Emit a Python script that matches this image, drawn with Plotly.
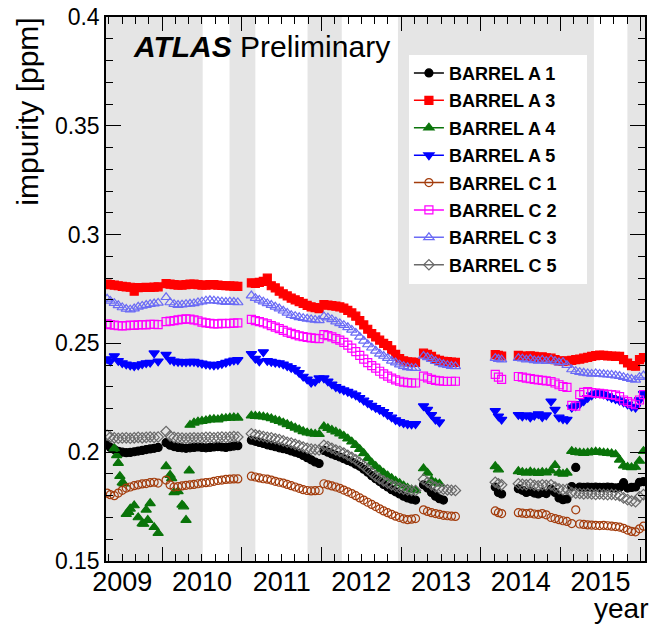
import plotly.graph_objects as go

# ---------------- data ----------------
dates = [
    2009.31, 2009.35, 2009.40, 2009.45, 2009.50, 2009.55, 2009.60, 2009.65, 2009.70, 2009.75, 2009.80, 2009.85, 2009.90, 2009.95,
    2010.05, 2010.10, 2010.15, 2010.20, 2010.25, 2010.30, 2010.35, 2010.40, 2010.45, 2010.50, 2010.55, 2010.60, 2010.65, 2010.70, 2010.75, 2010.80, 2010.85, 2010.90, 2010.95,
    2011.12, 2011.17, 2011.22, 2011.27, 2011.32, 2011.37, 2011.42, 2011.47, 2011.52, 2011.57, 2011.62, 2011.67, 2011.72, 2011.77, 2011.82, 2011.87, 2011.92, 2011.97,
    2012.03, 2012.08, 2012.13, 2012.18, 2012.23, 2012.28, 2012.33, 2012.38, 2012.43, 2012.48, 2012.53, 2012.58, 2012.63, 2012.68, 2012.73, 2012.78, 2012.83, 2012.88, 2012.93, 2012.98, 2013.03, 2013.08, 2013.13, 2013.18,
    2013.28, 2013.33, 2013.38, 2013.43, 2013.48, 2013.53, 2013.58, 2013.63, 2013.68,
    2014.18, 2014.22, 2014.26,
    2014.47, 2014.52, 2014.57, 2014.62, 2014.67, 2014.72, 2014.77, 2014.82,
    2014.88, 2014.93, 2014.98, 2015.03, 2015.08,
    2015.14, 2015.19, 2015.24, 2015.29, 2015.34, 2015.39, 2015.44, 2015.49, 2015.54, 2015.59, 2015.64, 2015.69, 2015.74, 2015.79, 2015.84, 2015.89, 2015.94, 2015.99, 2016.04,
]

barrel_a1 = [
    0.2036, 0.2022, 0.2012, 0.2004, 0.2000, 0.1998, 0.1999, 0.2002, 0.2005, 0.2008, 0.2012, 0.2015, 0.2018, 0.2022,
    0.2044, 0.2032, 0.2026, 0.2022, 0.2020, 0.2018, 0.2020, 0.2022, 0.2024, 0.2022, 0.2020, 0.2022, 0.2024, 0.2026, 0.2024, 0.2022, 0.2025, 0.2028, 0.2030,
    0.2055, 0.2050, 0.2045, 0.2040, 0.2034, 0.2030, 0.2025, 0.2020, 0.2016, 0.2012, 0.2006, 0.2000, 0.1994, 0.1985, 0.1975, 0.1965, 0.1955, 0.1948,
    0.2008, 0.2000, 0.1992, 0.1985, 0.1978, 0.1970, 0.1962, 0.1955, 0.1945, 0.1935, 0.1922, 0.1908, 0.1892, 0.1878, 0.1865, 0.1852, 0.1840, 0.1828, 0.1818, 0.1808, 0.1798, 0.1790, 0.1784, 0.1780,
    0.1850, 0.1835, 0.1815, 0.1798, 0.1786, 0.1780, None, None, None,
    0.1840, 0.1815, 0.1808,
    0.1832, 0.1825, 0.1815, 0.1820, 0.1812, 0.1808, 0.1815, 0.1810,
    0.1830, 0.1815, 0.1790, 0.1782, 0.1785,
    0.1842, 0.1930, 0.1840, 0.1838, 0.1840, 0.1838, 0.1840, 0.1838, 0.1839, 0.1840, 0.1838, 0.1836, 0.1838, 0.1860, 0.1835, 0.1838, 0.1840, 0.1862, 0.1865,
]

barrel_a3 = [
    0.2772, 0.2770, 0.2768, 0.2765, 0.2762, 0.2760, 0.2758, 0.2740, 0.2756, 0.2757, 0.2758, 0.2757, 0.2759, 0.2760,
    0.2775, 0.2772, 0.2770, 0.2768, 0.2768, 0.2770, 0.2772, 0.2772, 0.2770, 0.2768, 0.2768, 0.2770, 0.2770, 0.2768, 0.2766, 0.2765, 0.2764, 0.2763, 0.2762,
    0.2778, 0.2776, 0.2780, 0.2785, 0.2800, 0.2765, 0.2755, 0.2740, 0.2728, 0.2718, 0.2708, 0.2700, 0.2692, 0.2684, 0.2675, 0.2668, 0.2664, 0.2660,
    0.2678, 0.2676, 0.2674, 0.2671, 0.2668, 0.2662, 0.2652, 0.2640, 0.2625, 0.2605, 0.2585, 0.2565, 0.2545, 0.2530, 0.2515, 0.2500, 0.2490, 0.2470, 0.2450, 0.2430, 0.2420, 0.2415, 0.2414, 0.2413,
    0.2455, 0.2450, 0.2440, 0.2428, 0.2422, 0.2418, 0.2416, 0.2414, 0.2413,
    0.2448, 0.2445, 0.2442,
    0.2445, 0.2442, 0.2440, 0.2443, 0.2440, 0.2436, 0.2438, 0.2434,
    0.2432, 0.2425, 0.2420, 0.2418, 0.2420,
    0.2422, 0.2425, 0.2428, 0.2432, 0.2436, 0.2440, 0.2444, 0.2446, 0.2445, 0.2443, 0.2442, 0.2440, 0.2440, 0.2425, 0.2410, 0.2398, 0.2395, 0.2425, 0.2435,
]

barrel_a4 = [
    None, None, 0.2018, 0.1950, 0.1860, 0.1715, 0.1740, 0.1755, 0.1700, 0.1672, 0.1735, 0.1765, 0.1655, 0.1628,
    0.1935, 0.1895, 0.1815, 0.1820, 0.1758, 0.1688, 0.2125, 0.2135, 0.2140, 0.2143, 0.2146, 0.2150, 0.2152, 0.2150, 0.2155, 0.2156, 0.2158, 0.2160, 0.2158,
    0.2168, 0.2166, 0.2165, 0.2163, 0.2160, 0.2155, 0.2148, 0.2143, 0.2136, 0.2128, 0.2120, 0.2112, 0.2104, 0.2096, 0.2090, 0.2086, 0.2084, 0.2083,
    0.2118, 0.2110, 0.2102, 0.2094, 0.2085, 0.2075, 0.2062, 0.2048, 0.2032, 0.2014, 0.1995, 0.1972, 0.1952, 0.1936, 0.1920, 0.1905, 0.1892, 0.1880, 0.1868, 0.1857, 0.1846, 0.1836, 0.1828, 0.1824,
    0.1925, 0.1905, 0.1870, 0.1860, 0.1855, None, None, None, None,
    0.1935, 0.1920, None,
    0.1912, 0.1908, 0.1905, 0.1910, 0.1906, 0.1904, 0.1908, 0.1906,
    0.1915, 0.1940, 0.1905, 0.1900, 0.1905,
    0.2005, 0.2000, 0.1998, 0.1996, 0.1998, 0.2000, 0.2002, 0.2000, 0.1998, 0.1996, 0.1994, 0.1990, 0.1965, 0.1938, 0.1932, 0.1930, 0.1932, 0.1960, 0.2005,
]
# a few extra scattered A4 points of the early running period
barrel_a4_extra_dates = [2009.43, 2009.47, 2009.52, 2009.58, 2009.77, 2009.82, 2010.12, 2010.27, 2010.34]
barrel_a4_extra = [0.1985, 0.1890, 0.1855, 0.1725, 0.1670, 0.1688, 0.1880, 0.1750, 0.1915]

barrel_a5 = [
    0.2428, 0.2418, 0.2442, 0.2420, 0.2410, 0.2404, 0.2400, 0.2396, 0.2400, 0.2405, 0.2410, 0.2412, 0.2455, 0.2418,
    0.2448, 0.2425, 0.2418, 0.2416, 0.2415, 0.2414, 0.2416, 0.2416, 0.2412, 0.2408, 0.2404, 0.2402, 0.2400, 0.2402, 0.2406, 0.2412, 0.2418, 0.2422, 0.2424,
    0.2452, 0.2430, 0.2418, 0.2460, 0.2420, 0.2416, 0.2412, 0.2410, 0.2404, 0.2396, 0.2388, 0.2380, 0.2365, 0.2348, 0.2335, 0.2320, 0.2325, 0.2340,
    0.2340, 0.2326, 0.2312, 0.2300, 0.2292, 0.2285, 0.2278, 0.2270, 0.2262, 0.2250, 0.2238, 0.2226, 0.2214, 0.2204, 0.2195, 0.2185, 0.2172, 0.2160, 0.2148, 0.2140, 0.2134, 0.2130, 0.2128, 0.2130,
    0.2212, 0.2196, 0.2172, 0.2150, 0.2138, None, None, None, None,
    0.2190, 0.2165, 0.2150,
    0.2172, 0.2165, 0.2170, 0.2160, 0.2168, 0.2175, 0.2162, 0.2170,
    0.2234, 0.2196, 0.2160, 0.2152, 0.2150,
    0.2205, 0.2212, 0.2222, 0.2235, 0.2250, 0.2262, 0.2270, 0.2272, 0.2266, 0.2258, 0.2250, 0.2244, 0.2238, 0.2230, 0.2220, 0.2210, 0.2205, 0.2240, 0.2268,
]

barrel_c1 = [
    0.1812, 0.1805, 0.1800, 0.1812, 0.1825, 0.1835, 0.1840, 0.1846, 0.1850, 0.1854, 0.1856, 0.1860, 0.1862, 0.1858,
    0.1872, 0.1850, 0.1840, 0.1842, 0.1845, 0.1848, 0.1850, 0.1852, 0.1855, 0.1858, 0.1860, 0.1862, 0.1866, 0.1870, 0.1872, 0.1875, 0.1876, 0.1877, 0.1877,
    0.1890, 0.1886, 0.1882, 0.1878, 0.1876, 0.1872, 0.1866, 0.1862, 0.1858, 0.1852, 0.1846, 0.1840, 0.1834, 0.1828, 0.1824, 0.1822, 0.1823, 0.1824,
    0.1855, 0.1850, 0.1845, 0.1840, 0.1834, 0.1826, 0.1818, 0.1810, 0.1800, 0.1790, 0.1780, 0.1770, 0.1760, 0.1750, 0.1740, 0.1730, 0.1722, 0.1714, 0.1706, 0.1700, 0.1694, 0.1690, 0.1692, 0.1695,
    0.1735, 0.1728, 0.1722, 0.1718, 0.1714, 0.1710, 0.1708, 0.1706, 0.1705,
    0.1730, 0.1722, 0.1718,
    0.1722, 0.1720, 0.1718, 0.1720, 0.1716, 0.1714, 0.1718, 0.1712,
    0.1700, 0.1695, 0.1690, 0.1685, 0.1682,
    0.1672, 0.1735, 0.1670, 0.1668, 0.1666, 0.1665, 0.1664, 0.1663, 0.1664, 0.1662, 0.1660, 0.1658, 0.1656, 0.1650, 0.1642, 0.1636, 0.1634, 0.1648, 0.1660,
]

barrel_c2 = [
    0.2590, 0.2586, 0.2584, 0.2582, 0.2580, 0.2582, 0.2584, 0.2583, 0.2585, 0.2586, 0.2585, 0.2587, 0.2588, 0.2586,
    0.2600, 0.2602, 0.2605, 0.2608, 0.2610, 0.2613, 0.2612, 0.2608, 0.2604, 0.2598, 0.2594, 0.2592, 0.2590, 0.2590, 0.2592, 0.2591, 0.2592, 0.2593, 0.2594,
    0.2610, 0.2605, 0.2600, 0.2595, 0.2590, 0.2582, 0.2575, 0.2568, 0.2560, 0.2552, 0.2546, 0.2540, 0.2535, 0.2531, 0.2528, 0.2525, 0.2523, 0.2522,
    0.2540, 0.2536, 0.2530, 0.2522, 0.2515, 0.2505, 0.2492, 0.2478, 0.2462, 0.2445, 0.2428, 0.2412, 0.2398, 0.2386, 0.2372, 0.2360, 0.2350, 0.2340, 0.2332, 0.2326, 0.2322, 0.2320, 0.2318, 0.2318,
    0.2350, 0.2342, 0.2335, 0.2330, 0.2328, 0.2326, 0.2325, 0.2326, 0.2326,
    0.2358, 0.2345, 0.2335,
    0.2348, 0.2345, 0.2340, 0.2338, 0.2335, 0.2332, 0.2330, 0.2328,
    0.2325, 0.2318, 0.2310, 0.2302, 0.2298,
    0.2215, 0.2212, 0.2265, 0.2275, 0.2278, 0.2274, 0.2272, 0.2270, 0.2268, 0.2266, 0.2265, 0.2262, 0.2255, 0.2240, 0.2232, 0.2225, 0.2218, 0.2240, 0.2265,
]

barrel_c3 = [
    0.2705, 0.2695, 0.2685, 0.2675, 0.2665, 0.2658, 0.2655, 0.2660, 0.2668, 0.2672, 0.2676, 0.2680, 0.2683, 0.2686,
    0.2712, 0.2688, 0.2680, 0.2676, 0.2678, 0.2680, 0.2682, 0.2684, 0.2688, 0.2692, 0.2696, 0.2698, 0.2696, 0.2694, 0.2692, 0.2690, 0.2692, 0.2690, 0.2688,
    0.2720, 0.2708, 0.2700, 0.2692, 0.2684, 0.2676, 0.2668, 0.2660, 0.2650, 0.2640, 0.2630, 0.2625, 0.2620, 0.2616, 0.2613, 0.2610, 0.2608, 0.2606,
    0.2624, 0.2618, 0.2610, 0.2600, 0.2592, 0.2584, 0.2574, 0.2562, 0.2548, 0.2530, 0.2512, 0.2495, 0.2480, 0.2466, 0.2452, 0.2442, 0.2432, 0.2420, 0.2412, 0.2402, 0.2395, 0.2390, 0.2387, 0.2386,
    0.2442, 0.2436, 0.2428, 0.2418, 0.2410, 0.2404, 0.2400, 0.2396, 0.2394,
    0.2432, 0.2428, 0.2425,
    0.2432, 0.2430, 0.2425, 0.2428, 0.2422, 0.2420, 0.2424, 0.2418,
    0.2425, 0.2418, 0.2412, 0.2414, 0.2400,
    0.2380, 0.2372, 0.2368, 0.2365, 0.2362, 0.2360, 0.2362, 0.2360, 0.2358, 0.2356, 0.2355, 0.2352, 0.2350, 0.2345, 0.2340, 0.2336, 0.2332, 0.2345, 0.2352,
]

barrel_c5 = [
    0.2078, 0.2070, 0.2066, 0.2064, 0.2065, 0.2066, 0.2064, 0.2066, 0.2068, 0.2066, 0.2068, 0.2070, 0.2068, 0.2070,
    0.2095, 0.2075, 0.2068, 0.2066, 0.2065, 0.2064, 0.2065, 0.2066, 0.2065, 0.2066, 0.2068, 0.2068, 0.2066, 0.2068, 0.2070, 0.2068, 0.2070, 0.2072, 0.2070,
    0.2085, 0.2080, 0.2076, 0.2072, 0.2068, 0.2066, 0.2062, 0.2058, 0.2052, 0.2046, 0.2042, 0.2036, 0.2030, 0.2024, 0.2018, 0.2014, 0.2012, 0.2010,
    0.2032, 0.2026, 0.2018, 0.2010, 0.2004, 0.1996, 0.1986, 0.1976, 0.1965, 0.1952, 0.1938, 0.1922, 0.1906, 0.1890, 0.1878, 0.1868, 0.1858, 0.1850, 0.1843, 0.1836, 0.1830, 0.1826, 0.1824, 0.1824,
    0.1875, 0.1862, 0.1850, 0.1840, 0.1834, 0.1830, 0.1827, 0.1825, 0.1824,
    0.1862, 0.1855, 0.1850,
    0.1855, 0.1852, 0.1850, 0.1854, 0.1848, 0.1846, 0.1850, 0.1848,
    0.1850, 0.1840, 0.1832, 0.1828, 0.1830,
    0.1815, 0.1812, 0.1810, 0.1808, 0.1810, 0.1808, 0.1806, 0.1808, 0.1806, 0.1805, 0.1806, 0.1804, 0.1800, 0.1790, 0.1782, 0.1776, 0.1772, 0.1795, 0.1805,
]

series_names = ["BARREL A 1", "BARREL A 3", "BARREL A 4", "BARREL A 5",
                "BARREL C 1", "BARREL C 2", "BARREL C 3", "BARREL C 5"]

# shaded periods (decimal year)
shade_start = [2009.0, 2010.846, 2011.825, 2012.959, 2015.838]
shade_end = [2010.509, 2011.170, 2012.254, 2015.418, 2016.5]

year_labels = ["2009", "2010", "2011", "2012", "2013", "2014", "2015"]
year_label_pos = [2009.5, 2010.5, 2011.5, 2012.5, 2013.5, 2014.5, 2015.5]
y_ticks = [0.15, 0.2, 0.25, 0.3, 0.35, 0.4]
y_tick_labels = ["0.15", "0.2", "0.25", "0.3", "0.35", "0.4"]

x_range = [2009.296, 2016.059]
y_range = [0.15, 0.4]

# ---------------- figure ----------------
for s in [barrel_a1, barrel_a3, barrel_a4, barrel_a5, barrel_c1, barrel_c2, barrel_c3, barrel_c5]:
    assert len(s) == len(dates), len(s)

styles = {
    "BARREL A 1": ("#000000", "circle", 8),
    "BARREL A 3": ("#ff0000", "square", 8),
    "BARREL A 4": ("#0a740a", "triangle-up", 9),
    "BARREL A 5": ("#0000ff", "triangle-down", 9),
    "BARREL C 1": ("#a33c0c", "circle-open", 8),
    "BARREL C 2": ("#ff00ff", "square-open", 8),
    "BARREL C 3": ("#6b6bf5", "triangle-up-open", 9),
    "BARREL C 5": ("#6a6a6a", "diamond-open", 8),
}
values = {
    "BARREL A 1": barrel_a1, "BARREL A 3": barrel_a3, "BARREL A 4": barrel_a4, "BARREL A 5": barrel_a5,
    "BARREL C 1": barrel_c1, "BARREL C 2": barrel_c2, "BARREL C 3": barrel_c3, "BARREL C 5": barrel_c5,
}

fig = go.Figure()
for name in series_names:
    color, sym, size = styles[name]
    xs = list(dates)
    ys = list(values[name])
    if name == "BARREL A 4":
        xs += barrel_a4_extra_dates
        ys += barrel_a4_extra
    fig.add_trace(go.Scatter(
        x=xs, y=ys, mode="markers", showlegend=False, hoverinfo="skip",
        marker=dict(symbol=sym, color=color, size=size, line=dict(width=1.2, color=color)),
    ))

# legend entries (line + marker symbol)
pad = "\u00a0" * 5
for name in series_names:
    color, sym, size = styles[name]
    fig.add_trace(go.Scatter(
        x=[None], y=[None], mode="lines+markers", name=name + pad, legendgroup=name,
        xaxis="x2", yaxis="y",
        line=dict(color=color, width=1.5),
        marker=dict(symbol=sym, color=color, size=min(size, 9), line=dict(width=1.2, color=color)),
    ))

shapes = []
for s0, s1 in zip(shade_start, shade_end):
    shapes.append(dict(type="rect", xref="x", yref="paper",
                       x0=max(s0, x_range[0]), x1=min(s1, x_range[1]), y0=0, y1=1,
                       fillcolor="#e5e5e5", line=dict(width=0), layer="below"))

fig.update_layout(
    width=651, height=627,
    margin=dict(l=106, r=4, t=13, b=66),
    paper_bgcolor="white", plot_bgcolor="white",
    font=dict(family="Liberation Sans, Arial, sans-serif", color="black"),
    xaxis=dict(range=x_range, tickmode="array", tickvals=year_label_pos, ticktext=year_labels,
               ticks="", showgrid=False, zeroline=False, showline=True, mirror=True,
               linecolor="black", linewidth=1.5, tickfont=dict(size=27), ticklabelstandoff=-4),
    xaxis2=dict(overlaying="x", anchor="y", range=x_range, tickmode="linear", tick0=2010, dtick=1,
                ticks="inside", ticklen=14, tickwidth=1, tickcolor="black", showticklabels=False,
                showgrid=False, zeroline=False, showline=False, mirror="ticks",
                minor=dict(tick0=2010, dtick=1 / 6, ticks="inside", ticklen=7, tickwidth=1,
                           tickcolor="black", showgrid=False)),
    yaxis=dict(range=y_range, tickmode="array", tickvals=y_ticks, ticktext=y_tick_labels,
               ticks="inside", ticklen=15, tickwidth=1, tickcolor="black",
               minor=dict(tick0=0.15, dtick=0.01, ticks="inside", ticklen=7, tickwidth=1,
                          tickcolor="black", showgrid=False),
               showgrid=False, zeroline=False, showline=True, mirror="ticks",
               linecolor="black", linewidth=1.5, tickfont=dict(size=23)),
    legend=dict(x=0.562, y=0.9306, xanchor="left", yanchor="top", bgcolor="white",
                borderwidth=0, traceorder="grouped", tracegroupgap=1,
                font=dict(size=18, weight="bold"), itemwidth=30),
    shapes=shapes,
    annotations=[
        dict(text="<b><i>ATLAS</i></b> Preliminary", xref="paper", yref="paper",
             x=0.047, y=0.945, xanchor="left", yanchor="middle", showarrow=False,
             font=dict(size=30)),
        dict(text="impurity [ppm]", xref="paper", yref="paper", textangle=-90,
             x=-0.1451, y=1.002, xanchor="center", yanchor="top", showarrow=False,
             font=dict(size=30)),
        dict(text="year", xref="paper", yref="paper",
             x=1.009, y=-0.1186, xanchor="right", yanchor="bottom", showarrow=False,
             font=dict(size=28)),
    ],
)

fig.write_html("out.html", post_script="document.body.style.margin='0';",
               config={"displayModeBar": False})
